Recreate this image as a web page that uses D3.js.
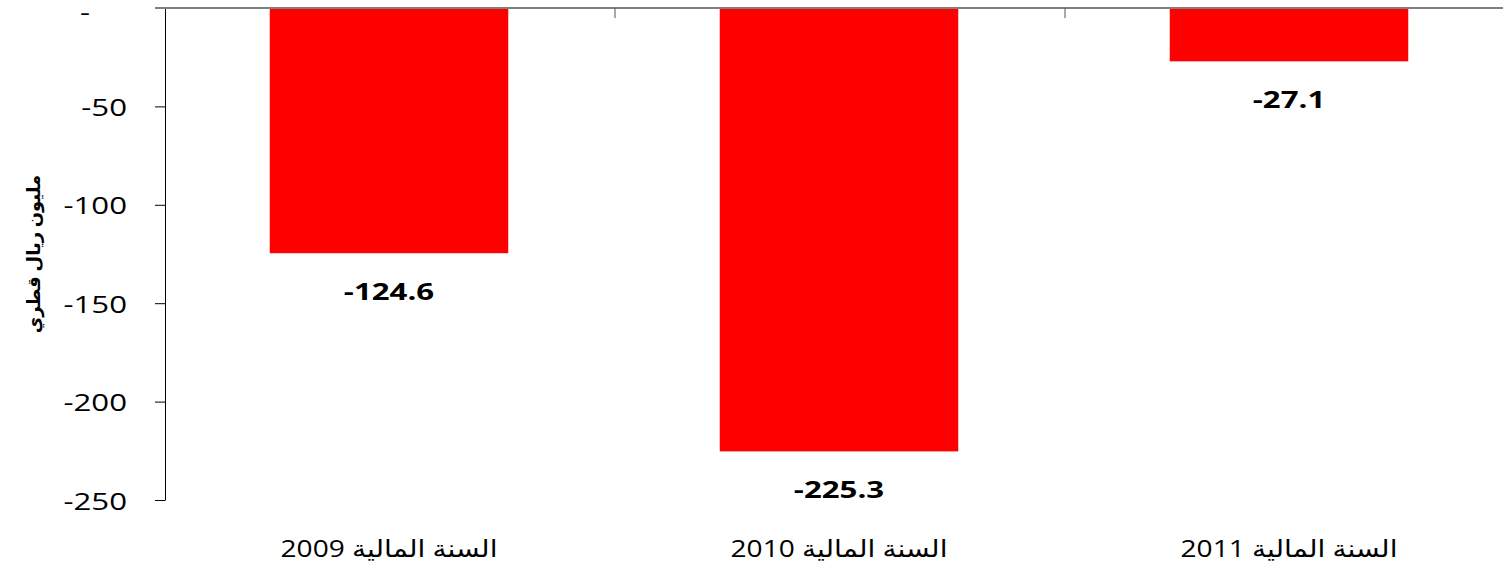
<!DOCTYPE html>
<html>
<head>
<meta charset="utf-8">
<script src="https://cdn.jsdelivr.net/npm/d3@7"></script>
<style>
  html, body { margin: 0; padding: 0; background: #fff; }
  svg { display: block; }
  text { font-family: "Open Sans", "Noto Sans", "DejaVu Sans", sans-serif; }
</style>
</head>
<body>
<svg id="chart" width="1503" height="567"></svg>
<script>
const categories = ["السنة المالية 2009", "السنة المالية 2010", "السنة المالية 2011"];
const values = [-124.6, -225.3, -27.1];
const yTicks = [0, -50, -100, -150, -200, -250];
const yTitle = "مليون ريال قطري";

const svg = d3.select("#chart");
const W = 1503, H = 567;
const sx = 1.3;   // horizontal text stretch seen in the reference
const sxCat = 1.17;
const hyph = s => s.replace(/\u2212/g, "-");

const y = d3.scaleLinear().domain([-250, 0]).range([500, 8]);
const x = d3.scaleBand().domain(categories).range([165, 1515]).padding(0);
const barW = x.bandwidth() * 0.53;

// bars
svg.append("g").selectAll("rect")
  .data(values)
  .join("rect")
  .attr("x", (d, i) => x(categories[i]) + (x.bandwidth() - barW) / 2 - 1)
  .attr("y", y(0))
  .attr("width", barW)
  .attr("height", d => y(d) - y(0))
  .attr("fill", "#FF0000");

// left axis
const yAxis = svg.append("g")
  .attr("transform", "translate(165,0)")
  .call(d3.axisLeft(y).tickValues(yTicks).tickSize(10).tickSizeOuter(0)
        .tickFormat(d => d === 0 ? "-" : hyph(d3.format("d")(d))));
yAxis.select(".domain").attr("stroke", "#000").attr("stroke-width", 1);
yAxis.selectAll(".tick line").attr("stroke", "#000").attr("stroke-width", 1);
yAxis.selectAll(".tick text")
  .attr("x", null).attr("dy", null)
  .attr("fill", "#000")
  .attr("font-size", 24)
  .attr("text-anchor", "end")
  .attr("font-family", '"Open Sans", sans-serif')
  .attr("transform", d => `translate(${d === 0 ? -75 : -38},${d === 0 ? 12 : 9}) scale(${sx},1)`);

// zero (category) axis
const zg = svg.append("g");
zg.append("line")
  .attr("x1", x.range()[0] - 10).attr("x2", W)
  .attr("y1", y(0)).attr("y2", y(0))
  .attr("stroke", "#808080").attr("stroke-width", 2);
zg.selectAll("line.tk")
  .data(categories)
  .join("line")
  .attr("class", "tk")
  .attr("x1", d => x(d) + x.step()).attr("x2", d => x(d) + x.step())
  .attr("y1", y(0)).attr("y2", y(0) + 10)
  .attr("stroke", "#555").attr("stroke-width", 1);

// category labels
svg.append("g").selectAll("text")
  .data(categories)
  .join("text")
  .attr("transform", d => `translate(${x(d) + x.bandwidth() / 2 - 1},557) scale(${sxCat},1)`)
  .attr("text-anchor", "middle")
  .attr("font-size", 24)
  .attr("fill", "#000")
  .text(d => d);

// value labels
svg.append("g").selectAll("text")
  .data(values)
  .join("text")
  .attr("transform", (d, i) => `translate(${x(categories[i]) + x.bandwidth() / 2 - 1},${y(d) + 47}) scale(${sx},1)`)
  .attr("text-anchor", "middle")
  .attr("font-size", 24)
  .attr("font-weight", "bold")
  .attr("fill", "#000")
  .text(d => hyph(d3.format(".1f")(d)));

// y title
svg.append("text")
  .attr("transform", `translate(40,${(y(0) + y(-250)) / 2}) rotate(-90)`)
  .attr("text-anchor", "middle")
  .attr("font-size", 18)
  .attr("font-weight", "bold")
  .attr("fill", "#000")
  .text(yTitle);
</script>
</body>
</html>
